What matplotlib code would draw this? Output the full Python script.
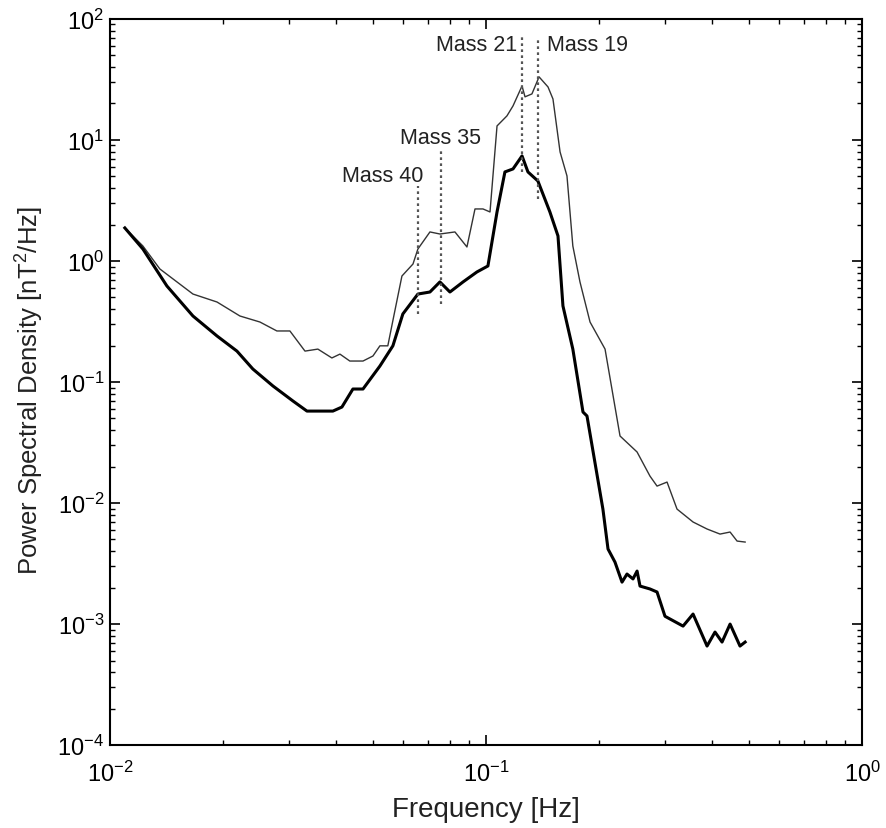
import numpy as np
import matplotlib
matplotlib.use("Agg")
import matplotlib.pyplot as plt

plt.rcParams['font.family'] = ['Liberation Sans', 'DejaVu Sans']
plt.rcParams['mathtext.fontset'] = 'custom'
plt.rcParams['mathtext.rm'] = 'Liberation Sans'
plt.rcParams['mathtext.default'] = 'regular'

# upper (thin) spectrum
f_thin = [0.01096, 0.01224, 0.01358, 0.01663, 0.01927, 0.02217, 0.02506, 0.02780,
          0.03011, 0.03302, 0.03573, 0.03893, 0.04090, 0.04345, 0.04710, 0.05006,
          0.05224, 0.05483, 0.05688, 0.05978, 0.06397, 0.06592, 0.07096, 0.07543,
          0.0827, 0.0890, 0.0935, 0.0982, 0.1025, 0.1070, 0.1137, 0.1180, 0.1247,
          0.1270, 0.1325, 0.1384, 0.1462, 0.1507, 0.1574, 0.1642, 0.1702, 0.1778,
          0.1891, 0.2073, 0.2272, 0.2522, 0.2729, 0.2850, 0.3030, 0.3221, 0.3553,
          0.3871, 0.4191, 0.4457, 0.4652, 0.4887]
p_thin = [1.875, 1.33, 0.859, 0.533, 0.458, 0.351, 0.313, 0.264,
          0.264, 0.180, 0.187, 0.158, 0.170, 0.149, 0.149, 0.164,
          0.199, 0.199, 0.351, 0.751, 0.944, 1.256, 1.737, 1.67,
          1.737, 1.305, 2.69, 2.69, 2.54, 13.05, 15.8, 19.1, 27.9,
          22.7, 24.0, 33.2, 27.4, 21.8, 7.96, 5.04, 1.33, 0.671,
          0.313, 0.187, 0.0358, 0.0264, 0.0167, 0.0138, 0.0149, 0.00891, 0.00697,
          0.0061, 0.00554, 0.00576, 0.00485, 0.00476]

# lower (thick) spectrum
f_thick = [0.01096, 0.01224, 0.01418, 0.01663, 0.01927, 0.02177, 0.02400, 0.02714,
           0.03067, 0.03342, 0.03917, 0.04140, 0.04428, 0.04710, 0.05224, 0.05656,
           0.06012, 0.06592, 0.07096, 0.07543, 0.0802, 0.0869, 0.0946, 0.1012,
           0.1070, 0.1123, 0.1180, 0.1247, 0.1293, 0.1374, 0.1479, 0.1554, 0.1602,
           0.1702, 0.1811, 0.1856, 0.2046, 0.2111, 0.2203, 0.2300, 0.2371, 0.2460,
           0.2522, 0.2568, 0.2729, 0.2850, 0.2992, 0.3342, 0.3553, 0.3871, 0.4064,
           0.4243, 0.4457, 0.4736, 0.4887]
p_thick = [1.875, 1.256, 0.621, 0.351, 0.240, 0.180, 0.128, 0.0927,
           0.0697, 0.0575, 0.0575, 0.0621, 0.0875, 0.0875, 0.1355, 0.199,
           0.365, 0.533, 0.554, 0.671, 0.554, 0.671, 0.811, 0.909,
           2.54, 5.44, 5.76, 7.38, 5.44, 4.58, 2.54, 1.61, 0.425,
           0.187, 0.0565, 0.0524, 0.00891, 0.00417, 0.00325, 0.00222, 0.00259, 0.00236,
           0.00274, 0.00206, 0.00195, 0.00184, 0.00116, 0.000962, 0.00121, 0.000658, 0.000859,
           0.00071, 0.001, 0.000658, 0.00071]

# ion cyclotron markers
mass_labels = ['Mass 40', 'Mass 35', 'Mass 21', 'Mass 19']
mass_freq = [0.0659, 0.0758, 0.1248, 0.1374]
mass_top = [4.17, 8.1, 71.0, 71.0]
mass_bottom = [0.365, 0.44, 5.4, 3.25]

fig = plt.figure(figsize=(8.86, 8.29), dpi=100)
ax = fig.add_axes([0.124, 0.100, 0.849, 0.876])

ax.loglog(f_thin, p_thin, color='#333333', lw=1.0)
ax.loglog(f_thick, p_thick, color='black', lw=2.2)

for f, top, bot in zip(mass_freq, mass_top, mass_bottom):
    ax.plot([f, f], [bot, top], color='#555555', ls=(0, (1.2, 1.5)), lw=1.6)

lab_kw = dict(va='center', fontsize=15.5, color='#222222')
ax.text(0.0680, 5.04, mass_labels[0], ha='right', **lab_kw)
ax.text(mass_freq[1], 10.4, mass_labels[1], ha='center', **lab_kw)
ax.text(0.1209, 61.5, mass_labels[2], ha='right', **lab_kw)
ax.text(0.1453, 61.5, mass_labels[3], ha='left', **lab_kw)

ax.set_xlim(1e-2, 1)
ax.set_ylim(1e-4, 1e2)
ax.tick_params(which='both', direction='in', top=True, right=True, labelsize=17)
ax.tick_params(axis='x', which='major', pad=11)
ax.tick_params(axis='y', which='major', pad=4)
ax.tick_params(which='major', length=7, width=1.2)
ax.tick_params(which='minor', length=3.5, width=1)
for s in ax.spines.values():
    s.set_linewidth(1.5)

ax.set_xlabel('Frequency [Hz]', fontsize=20, va='baseline', color='#222222')
ax.xaxis.set_label_coords(0.5, -0.0978)
ax.set_ylabel('Power Spectral Density [nT$^2$/Hz]', fontsize=18.5, va='center',
              color='#222222')
ax.yaxis.set_label_coords(-0.106, 0.49)

fig.savefig('out.png', dpi=100)
